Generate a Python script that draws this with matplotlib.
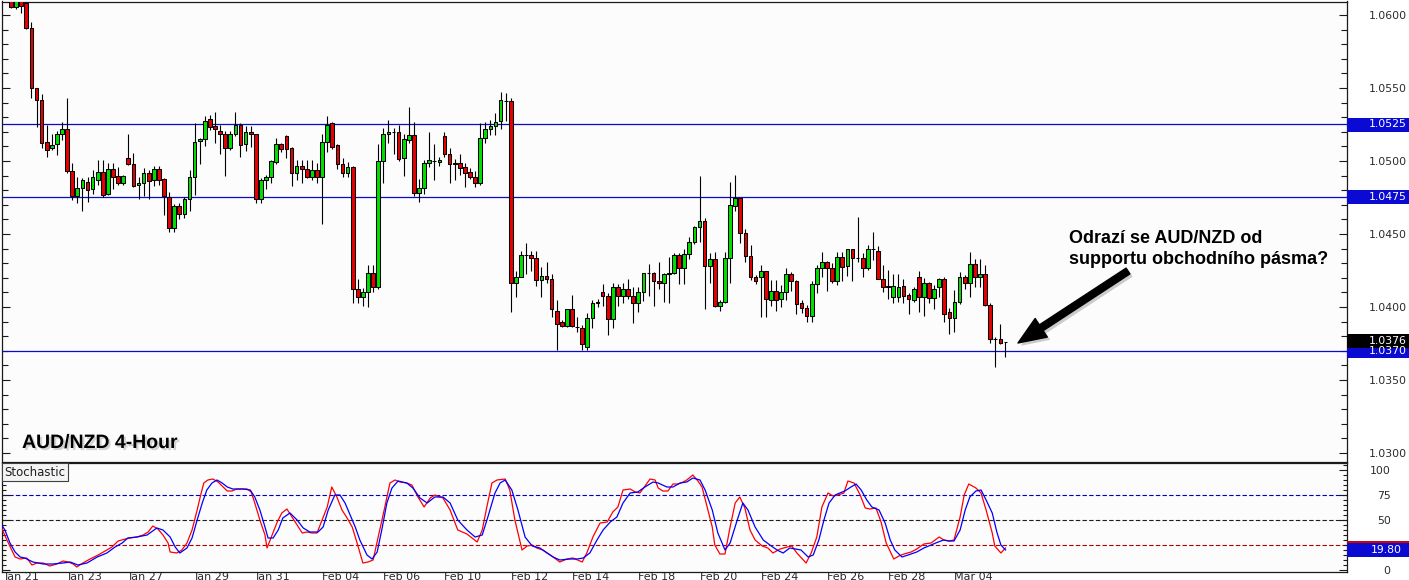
import matplotlib
matplotlib.use("Agg")
import matplotlib.pyplot as plt
import matplotlib.transforms as mtransforms
import matplotlib.patheffects as pe
from matplotlib.patches import Rectangle
from matplotlib.ticker import MultipleLocator, FixedLocator
import numpy as np

# ---------------- data (AUD/NZD 4-hour candles) ----------------
opens = [1.06100, 1.06055, 1.06100, 1.06082, 1.05911, 1.05500, 1.05418, 1.05130, 1.05089, 1.05116,
         1.05185, 1.05219, 1.04932, 1.04760, 1.04815, 1.04856, 1.04808, 1.04870, 1.04925, 1.04774,
         1.04945, 1.04897, 1.04849, 1.05021, 1.04979, 1.04836, 1.04849, 1.04918, 1.04870, 1.04945,
         1.04877, 1.04753, 1.04541, 1.04692, 1.04637, 1.04740, 1.04890, 1.05137, 1.05151, 1.05288,
         1.05240, 1.05205, 1.05185, 1.05089, 1.05185, 1.05247, 1.05116, 1.05199, 1.05185, 1.04740,
         1.04870, 1.04890, 1.04993, 1.05116, 1.05171, 1.05089, 1.04918, 1.04966, 1.04945, 1.04890,
         1.04938, 1.04890, 1.05130, 1.05260, 1.05110, 1.04979, 1.04918, 1.04959, 1.04123, 1.04068,
         1.04103, 1.04233, 1.04137, 1.05000, 1.05185, 1.05199, 1.05199, 1.05021, 1.05144, 1.05178,
         1.04781, 1.04815, 1.04986, 1.05000, 1.04993, 1.05171, 1.05048, 1.04986, 1.04986, 1.04959,
         1.04925, 1.04890, 1.04849, 1.05158, 1.05219, 1.05240, 1.05274, 1.05411, 1.05411, 1.04164,
         1.04205, 1.04356, 1.04356, 1.04336, 1.04185, 1.04212, 1.04192, 1.03973, 1.03897, 1.03870,
         1.03986, 1.03863, 1.03856, 1.03726, 1.03925, 1.04027, 1.04103, 1.04075, 1.03918, 1.04137,
         1.04075, 1.04123, 1.04075, 1.04027, 1.04103, 1.04233, 1.04233, 1.04178, 1.04164, 1.04226,
         1.04233, 1.04356, 1.04267, 1.04363, 1.04445, 1.04548, 1.04589, 1.04281, 1.04329, 1.04007,
         1.04034, 1.04336, 1.04692, 1.04747, 1.04507, 1.04349, 1.04205, 1.04205, 1.04247, 1.04048,
         1.04110, 1.04055, 1.04103, 1.04226, 1.04178, 1.04027, 1.03993, 1.03938, 1.04158, 1.04267,
         1.04308, 1.04267, 1.04178, 1.04342, 1.04281, 1.04397, 1.04336, 1.04336, 1.04267, 1.04397,
         1.04384, 1.04192, 1.04144, 1.04068, 1.04068, 1.04144, 1.04082, 1.04048, 1.04205, 1.04068,
         1.04164, 1.04062, 1.04137, 1.04192, 1.03966, 1.03925, 1.04034, 1.04205, 1.04164, 1.04295,
         1.04205, 1.04226, 1.04014, 1.03781, 1.03781, 1.03760]
highs = [1.06130, 1.06120, 1.06120, 1.06089, 1.05952, 1.05500, 1.05459, 1.05247, 1.05185, 1.05205,
         1.05267, 1.05432, 1.04986, 1.04890, 1.04884, 1.04890, 1.04938, 1.05007, 1.05007, 1.04986,
         1.04986, 1.04959, 1.04904, 1.05185, 1.05055, 1.04890, 1.04952, 1.04938, 1.04966, 1.04966,
         1.04884, 1.04788, 1.04705, 1.04712, 1.04753, 1.04938, 1.05260, 1.05158, 1.05308, 1.05315,
         1.05336, 1.05247, 1.05205, 1.05205, 1.05336, 1.05260, 1.05240, 1.05240, 1.05185, 1.04884,
         1.04904, 1.05007, 1.05158, 1.05123, 1.05178, 1.05096, 1.05007, 1.05007, 1.05007, 1.05007,
         1.04986, 1.05185, 1.05308, 1.05267, 1.05116, 1.05021, 1.04993, 1.04966, 1.04192, 1.04130,
         1.04288, 1.04288, 1.05116, 1.05226, 1.05281, 1.05226, 1.05247, 1.05185, 1.05370, 1.05267,
         1.04877, 1.05007, 1.05199, 1.05116, 1.05027, 1.05199, 1.05089, 1.05014, 1.05048, 1.04986,
         1.04952, 1.04932, 1.05260, 1.05267, 1.05281, 1.05329, 1.05473, 1.05466, 1.05432, 1.04247,
         1.04384, 1.04438, 1.04384, 1.04384, 1.04274, 1.04308, 1.04226, 1.04048, 1.03911, 1.03986,
         1.04082, 1.03932, 1.03877, 1.03959, 1.04048, 1.04055, 1.04158, 1.04096, 1.04164, 1.04158,
         1.04164, 1.04192, 1.04137, 1.04137, 1.04233, 1.04295, 1.04240, 1.04308, 1.04233, 1.04342,
         1.04370, 1.04370, 1.04397, 1.04479, 1.04555, 1.04897, 1.04610, 1.04370, 1.04377, 1.04048,
         1.04377, 1.04856, 1.04904, 1.04747, 1.04534, 1.04425, 1.04219, 1.04288, 1.04247, 1.04185,
         1.04185, 1.04151, 1.04267, 1.04240, 1.04185, 1.04048, 1.04014, 1.04178, 1.04288, 1.04377,
         1.04315, 1.04301, 1.04377, 1.04377, 1.04397, 1.04397, 1.04616, 1.04370, 1.04425, 1.04514,
         1.04418, 1.04288, 1.04253, 1.04226, 1.04226, 1.04192, 1.04096, 1.04137, 1.04247, 1.04199,
         1.04171, 1.04151, 1.04199, 1.04205, 1.03993, 1.04116, 1.04240, 1.04219, 1.04377, 1.04329,
         1.04329, 1.04288, 1.04027, 1.03795, 1.03884, 1.03760]
lows = [1.06048, 1.06041, 1.06014, 1.05904, 1.05432, 1.05233, 1.05089, 1.05027, 1.05075, 1.05041,
        1.05144, 1.04918, 1.04733, 1.04712, 1.04658, 1.04719, 1.04774, 1.04836, 1.04753, 1.04767,
        1.04808, 1.04836, 1.04836, 1.04973, 1.04822, 1.04740, 1.04760, 1.04740, 1.04829, 1.04836,
        1.04630, 1.04514, 1.04514, 1.04603, 1.04610, 1.04658, 1.04767, 1.04979, 1.05103, 1.05212,
        1.05123, 1.05048, 1.04897, 1.05075, 1.05171, 1.05027, 1.05068, 1.05096, 1.04712, 1.04712,
        1.04808, 1.04849, 1.04979, 1.05062, 1.05021, 1.04829, 1.04870, 1.04849, 1.04884, 1.04870,
        1.04849, 1.04568, 1.05062, 1.05082, 1.04945, 1.04890, 1.04890, 1.04027, 1.04027, 1.04007,
        1.04000, 1.04103, 1.04123, 1.04849, 1.05123, 1.05048, 1.05000, 1.04897, 1.05123, 1.04760,
        1.04719, 1.04774, 1.04959, 1.04870, 1.04966, 1.05027, 1.04849, 1.04870, 1.04904, 1.04822,
        1.04877, 1.04822, 1.04836, 1.05123, 1.05178, 1.05178, 1.05219, 1.05274, 1.03966, 1.04068,
        1.04205, 1.04226, 1.04247, 1.04144, 1.04068, 1.04164, 1.03932, 1.03705, 1.03863, 1.03863,
        1.03863, 1.03829, 1.03705, 1.03705, 1.03856, 1.04000, 1.04007, 1.03808, 1.03856, 1.04007,
        1.04027, 1.04055, 1.03890, 1.03966, 1.04041, 1.04075, 1.04007, 1.04123, 1.04034, 1.04027,
        1.04226, 1.04158, 1.04158, 1.04329, 1.04432, 1.04445, 1.03986, 1.04164, 1.04000, 1.03973,
        1.04027, 1.04164, 1.04658, 1.04438, 1.04308, 1.04185, 1.04158, 1.03932, 1.03932, 1.04007,
        1.03973, 1.04000, 1.04048, 1.04110, 1.03952, 1.03959, 1.03897, 1.03897, 1.04096, 1.04205,
        1.04110, 1.04164, 1.04151, 1.04178, 1.04212, 1.04178, 1.04308, 1.04205, 1.04253, 1.04322,
        1.04192, 1.04103, 1.04055, 1.04027, 1.04034, 1.04027, 1.03952, 1.04034, 1.03966, 1.03938,
        1.04027, 1.03986, 1.04068, 1.03897, 1.03815, 1.03829, 1.04021, 1.04123, 1.04068, 1.04137,
        1.04137, 1.04007, 1.03753, 1.03589, 1.03747, 1.03658]
closes = [1.06055, 1.06100, 1.06062, 1.05911, 1.05500, 1.05418, 1.05123, 1.05075, 1.05110, 1.05185,
          1.05219, 1.04932, 1.04760, 1.04815, 1.04870, 1.04801, 1.04890, 1.04925, 1.04767, 1.04945,
          1.04890, 1.04849, 1.04897, 1.04979, 1.04829, 1.04849, 1.04918, 1.04863, 1.04945, 1.04870,
          1.04760, 1.04541, 1.04692, 1.04637, 1.04740, 1.04890, 1.05130, 1.05151, 1.05274, 1.05233,
          1.05219, 1.05185, 1.05089, 1.05185, 1.05247, 1.05110, 1.05199, 1.05185, 1.04740, 1.04870,
          1.04890, 1.05000, 1.05116, 1.05082, 1.05082, 1.04918, 1.04966, 1.04945, 1.04890, 1.04938,
          1.04890, 1.05130, 1.05247, 1.05096, 1.04979, 1.04918, 1.04959, 1.04123, 1.04068, 1.04103,
          1.04233, 1.04137, 1.05000, 1.05185, 1.05199, 1.05199, 1.05014, 1.05151, 1.05178, 1.04781,
          1.04815, 1.04986, 1.05007, 1.05000, 1.05007, 1.05048, 1.04979, 1.04979, 1.04952, 1.04918,
          1.04890, 1.04849, 1.05158, 1.05219, 1.05240, 1.05267, 1.05418, 1.05411, 1.04164, 1.04205,
          1.04356, 1.04356, 1.04336, 1.04185, 1.04212, 1.04192, 1.03986, 1.03884, 1.03870, 1.03986,
          1.03870, 1.03863, 1.03747, 1.03925, 1.04027, 1.04034, 1.04075, 1.03918, 1.04137, 1.04075,
          1.04123, 1.04075, 1.04027, 1.04103, 1.04233, 1.04233, 1.04178, 1.04164, 1.04226, 1.04233,
          1.04356, 1.04267, 1.04363, 1.04445, 1.04548, 1.04589, 1.04281, 1.04329, 1.04007, 1.04034,
          1.04336, 1.04699, 1.04747, 1.04507, 1.04349, 1.04205, 1.04178, 1.04247, 1.04055, 1.04110,
          1.04048, 1.04103, 1.04226, 1.04178, 1.04021, 1.03993, 1.03938, 1.04158, 1.04267, 1.04308,
          1.04267, 1.04178, 1.04342, 1.04274, 1.04397, 1.04336, 1.04336, 1.04267, 1.04397, 1.04397,
          1.04192, 1.04137, 1.04137, 1.04144, 1.04137, 1.04075, 1.04055, 1.04123, 1.04068, 1.04164,
          1.04062, 1.04123, 1.04192, 1.03952, 1.03925, 1.04034, 1.04205, 1.04164, 1.04295, 1.04205,
          1.04226, 1.04014, 1.03781, 1.03781, 1.03753, 1.03760]

# Stochastic oscillator (bar index, value)
stoch_main_idx = [-2.2, -0.8, 0.8, 1.8, 3.1, 4.1, 5.1, 6.3, 7.6, 9.0, 10.2, 11.2, 12.2, 12.9, 14.1, 15.5,
                  17.1, 18.8, 19.8, 21.0, 22.4, 23.3, 24.7, 25.9, 26.9, 27.8, 28.8, 29.8, 30.8, 31.2,
                  32.5, 33.5, 34.5, 35.5, 36.5, 37.1, 37.8, 38.6, 39.6, 40.6, 41.6, 42.4, 43.3, 44.3,
                  46.3, 47.1, 47.8, 48.8, 49.8, 50.2, 51.2, 52.2, 53.1, 54.1, 55.1, 56.1, 57.1, 58.0,
                  59.0, 60.0, 61.0, 62.0, 62.9, 63.9, 64.9, 65.9, 66.9, 67.8, 69.0, 70.0, 71.0, 72.0,
                  73.3, 74.3, 75.3, 76.3, 77.6, 78.6, 79.8, 81.0, 82.2, 83.1, 84.7, 86.1, 87.6, 89.4,
                  91.4, 92.4, 93.3, 94.3, 95.3, 96.9, 97.8, 98.8, 100.2, 101.2, 102.2, 103.1, 104.3,
                  106.3, 107.6, 109.0, 110.2, 112.0, 112.9, 114.1, 115.5, 116.9, 118.0, 119.0, 120.0,
                  121.4, 122.4, 123.3, 123.9, 125.3, 126.3, 126.9, 127.8, 128.8, 129.8, 130.8, 131.8,
                  132.5, 133.7, 134.7, 135.5, 136.5, 137.5, 138.0, 139.0, 140.0, 141.0, 142.0, 142.9,
                  143.9, 144.9, 145.9, 147.3, 148.4, 149.4, 150.8, 152.2, 153.1, 154.1, 155.9, 156.9,
                  158.0, 159.0, 160.2, 161.2, 162.2, 163.3, 164.1, 165.3, 166.5, 167.5, 168.4, 169.6,
                  170.6, 171.6, 173.1, 174.1, 175.1, 176.5, 177.6, 179.0, 180.4, 182.0, 182.9, 183.9,
                  184.9, 186.1, 186.9, 187.8, 189.2, 190.2, 191.2, 192.4, 192.9, 194.1, 195.0]
stoch_main_val = [46, 30, 13, 11, 12, 5, 7, 7, 4, 6, 9, 8, 6, 3, 7, 11,
                  15, 20, 23, 29, 31, 32, 33, 35, 38, 44, 41, 35, 27, 18,
                  17, 20, 27, 40, 60, 73, 87, 90, 91, 88, 83, 79, 79, 81,
                  81, 78, 67, 50, 35, 22, 35, 48, 57, 61, 53, 45, 37, 38,
                  37, 37, 50, 63, 83, 73, 60, 52, 43, 28, 7, 8, 10, 33,
                  63, 87, 90, 88, 87, 85, 73, 63, 72, 75, 72, 60, 40, 36,
                  28, 40, 63, 87, 90, 91, 80, 50, 20, 24, 25, 22, 20,
                  13, 8, 11, 12, 8, 17, 33, 47, 48, 58, 63, 80,
                  81, 78, 77, 81, 91, 90, 82, 79, 79, 86, 86, 88,
                  90, 95, 89, 83, 63, 43, 25, 16, 16, 43, 67, 73,
                  62, 40, 30, 24, 22, 17, 21, 23, 24, 17, 7, 17,
                  33, 63, 77, 74, 75, 77, 89, 87, 75, 62, 61, 62,
                  48, 27, 11, 14, 16, 18, 21, 26, 27, 33, 30, 29,
                  30, 53, 75, 86, 82, 77, 60, 37, 24, 17, 22]
stoch_signal_idx = [-2.2, -1.2, -0.2, 0.8, 1.8, 2.7, 4.3, 6.3, 8.2, 10.2, 11.6, 13.1, 14.9, 16.9, 18.8,
                    20.4, 21.8, 22.9, 24.7, 26.7, 28.6, 29.8, 31.2, 32.2, 33.1, 34.5, 35.5, 36.5, 37.5,
                    38.4, 39.4, 40.4, 41.4, 42.4, 43.5, 45.5, 46.9, 47.8, 48.8, 49.8, 50.4, 51.4, 52.4,
                    53.3, 54.7, 56.1, 57.3, 58.6, 60.2, 61.2, 62.2, 63.5, 64.5, 65.5, 66.5, 67.5, 68.4,
                    69.8, 70.8, 71.8, 72.7, 73.7, 74.7, 75.9, 77.6, 78.8, 80.2, 81.6, 83.1, 84.7, 86.1,
                    87.6, 89.4, 91.0, 92.4, 93.5, 94.9, 95.9, 96.9, 98.2, 99.4, 100.8, 102.2, 103.7,
                    105.1, 106.3, 107.6, 109.6, 111.0, 112.2, 113.5, 114.9, 116.1, 117.5, 118.8, 120.0,
                    121.4, 122.9, 124.3, 125.9, 126.9, 128.6, 129.8, 131.2, 132.5, 133.7, 135.1, 136.1,
                    137.5, 138.6, 140.0, 141.0, 142.4, 143.5, 144.5, 145.9, 147.5, 148.8, 150.2, 151.4,
                    152.7, 154.9, 156.3, 157.3, 158.4, 159.4, 160.4, 161.6, 162.5, 163.5, 164.7, 165.7,
                    166.7, 167.8, 168.8, 170.2, 171.4, 172.4, 173.3, 174.7, 175.9, 177.6, 179.0, 180.4,
                    181.8, 182.9, 183.9, 184.9, 186.1, 187.1, 188.0, 189.2, 190.2, 191.2, 192.4, 193.3,
                    194.1, 195.0]
stoch_signal_val = [48, 40, 27, 18, 13, 12, 8, 6, 6, 7, 8, 5, 7, 13, 17,
                    23, 27, 32, 33, 35, 42, 40, 33, 23, 17, 22, 32, 50, 67,
                    80, 87, 90, 87, 83, 81, 81, 80, 73, 60, 43, 32, 32, 40,
                    52, 57, 50, 42, 38, 38, 43, 60, 75, 75, 67, 55, 43, 30,
                    15, 11, 18, 40, 67, 82, 89, 87, 82, 72, 67, 73, 73, 67,
                    50, 40, 33, 35, 53, 77, 87, 90, 80, 60, 33, 24, 22,
                    17, 13, 10, 11, 11, 12, 17, 30, 40, 48, 53, 67,
                    77, 78, 83, 88, 87, 83, 83, 87, 88, 92, 90, 80,
                    60, 37, 20, 27, 50, 67, 60, 43, 30, 25, 20, 17,
                    22, 20, 13, 15, 30, 50, 67, 75, 77, 79, 83, 86,
                    80, 70, 63, 60, 47, 30, 20, 13, 15, 18, 22, 25,
                    28, 30, 29, 29, 40, 60, 73, 79, 80, 70, 57, 38,
                    25, 20]

date_labels = ["Jan 21", "Jan 23", "Jan 27", "Jan 29", "Jan 31", "Feb 04", "Feb 06", "Feb 10",
               "Feb 12", "Feb 14", "Feb 18", "Feb 20", "Feb 24", "Feb 26", "Feb 28", "Mar 04"]
date_label_idx = [-1.2, 11, 23, 36, 48, 61, 73, 85, 98, 110, 123, 135, 147, 160, 172, 185]

levels = [1.0525, 1.0475, 1.0370]
level_colors = ["#0a0ac8", "#0a0ac8", "#0a0ac8"]
price_ticks = [1.0600, 1.0550, 1.0500, 1.0450, 1.0400, 1.0350, 1.0300]
current_price = 1.0376
stoch_levels = [75, 50, 25]
stoch_level_colors = ["#0000c8", "#202020", "#b40000"]
stoch_ticks = [100, 75, 50, 0]
stoch_main_last = 22.4
stoch_signal_last = 19.80

title = "AUD/NZD 4-Hour"
note_line1 = "Odrazí se AUD/NZD od"
note_line2 = "supportu obchodního pásma?"

# ---------------- figure layout (pixel based) ----------------
W, H = 1409, 580
fig = plt.figure(figsize=(W / 100, H / 100), dpi=100)
fig.patch.set_facecolor("white")

def fx(px):
    return px / W

def fy(py):
    return 1 - py / H

PX_L, PX_R = 2, 1347
MAIN_T, MAIN_B = 1.5, 462
ST_T, ST_B = 463, 572
BAR0_PX, BAR_STEP = 11, 5.1
LABEL_FS = 7.8

ax = fig.add_axes([fx(PX_L), fy(MAIN_B), fx(PX_R - PX_L), (MAIN_B - MAIN_T) / H])
ax2 = fig.add_axes([fx(PX_L), fy(ST_B), fx(PX_R - PX_L), (ST_B - ST_T) / H])

def idx_of(px):
    return (px - BAR0_PX) / BAR_STEP

xlim = (idx_of(PX_L), idx_of(PX_R))

def price_of(py):
    return 1.06 - (py - 15) / 14600.0

ax.set_xlim(*xlim)
ax.set_ylim(price_of(MAIN_B), price_of(MAIN_T))
ax2.set_xlim(*xlim)
ax2.set_ylim(570 - ST_B, 570 - ST_T)

for a in (ax, ax2):
    a.set_facecolor("#fcfcfc")
    for s in a.spines.values():
        s.set_color("#1a1a1a")
        s.set_linewidth(0.9)

# ---------------- candles ----------------
o = np.array(opens); h = np.array(highs); l = np.array(lows); c = np.array(closes)
x = np.arange(len(o))
ax.vlines(x, l, h, color="black", linewidth=0.8, zorder=3)
bottom = np.minimum(o, c)
height = np.maximum(np.abs(c - o), 0.000015)
cols = np.where(c > o, "#00e000", np.where(c < o, "#e80000", "black"))
ax.bar(x, height, bottom=bottom, width=0.72, color=cols, edgecolor="black",
       linewidth=0.75, zorder=4)

for lv, lc in zip(levels, level_colors):
    ax.axhline(lv, color=lc, linewidth=0.9, zorder=2)

ax.set_xticks([])
ax.yaxis.set_major_locator(FixedLocator(price_ticks))
ax.yaxis.set_minor_locator(MultipleLocator(0.001))
ax.tick_params(axis="y", which="both", direction="in", left=True, right=True,
               labelleft=False, labelright=True, pad=15.8, labelsize=LABEL_FS,
               labelcolor="#2a2a2a", color="#1a1a1a", width=0.8)
ax.tick_params(axis="y", which="major", length=6)
ax.tick_params(axis="y", which="minor", length=4)
ax.set_yticklabels([f"{p:.4f}" for p in price_ticks])

tr_main = mtransforms.blended_transform_factory(fig.transFigure, ax.transData)
tag_h = 14 / 14600.0

def price_tag(p, fc, label, ypos=None):
    yy = p if ypos is None else ypos
    ax.add_patch(Rectangle((fx(PX_R), yy - tag_h / 2), fx(W - PX_R), tag_h,
                           transform=tr_main, facecolor=fc, edgecolor="none",
                           clip_on=False, zorder=10))
    ax.text(fx(1369), yy, label, transform=tr_main, color="white", fontsize=LABEL_FS,
            va="center", ha="left", clip_on=False, zorder=11)

price_tag(levels[0], "#0a0ad2", f"{levels[0]:.4f}")
price_tag(levels[1], "#0a0ad2", f"{levels[1]:.4f}")
price_tag(levels[2], "#0a0ad2", f"{levels[2]:.4f}")
price_tag(current_price, "black", f"{current_price:.4f}", ypos=current_price + 0.00005)

# title with soft shadow
fig.text(fx(22), fy(448), title, fontsize=14, fontweight="bold", family="Liberation Sans",
         color="black", va="baseline", ha="left",
         path_effects=[pe.withSimplePatchShadow(offset=(1.5, -1.5), shadow_rgbFace="#a0a0a0",
                                                alpha=0.45)])

# annotation
fig.text(fx(1069), fy(243), note_line1, fontsize=13, fontweight="bold",
         family="Liberation Sans", color="black", va="baseline", ha="left")
fig.text(fx(1069), fy(264), note_line2, fontsize=13, fontweight="bold",
         family="Liberation Sans", color="black", va="baseline", ha="left")
ax.annotate("", xy=(idx_of(1018), price_of(343)), xytext=(idx_of(1128), price_of(271)),
            arrowprops=dict(arrowstyle="simple,head_length=2.0,head_width=1.6,tail_width=0.5",
                            color="black", shrinkA=0, shrinkB=0,
                            path_effects=[pe.withSimplePatchShadow(offset=(2, -2),
                                                                   shadow_rgbFace="#909090",
                                                                   alpha=0.45)]),
            zorder=6)

# ---------------- stochastic ----------------
for lv, lc in zip(stoch_levels, stoch_level_colors):
    ax2.axhline(lv, color=lc, linewidth=0.8, linestyle=(0, (4, 2)), zorder=1)
ax2.plot(stoch_main_idx, stoch_main_val, color="#ff0000", linewidth=0.9, zorder=3)
ax2.plot(stoch_signal_idx, stoch_signal_val, color="#0000ff", linewidth=0.9, zorder=4)

ax2.yaxis.set_major_locator(FixedLocator(stoch_ticks))
ax2.yaxis.set_minor_locator(MultipleLocator(5))
ax2.tick_params(axis="y", which="both", direction="in", left=True, right=True,
                labelleft=False, labelright=True, pad=31.5, labelsize=LABEL_FS,
                labelcolor="#2a2a2a", color="#1a1a1a", width=0.8)
ax2.tick_params(axis="y", which="major", length=6)
ax2.tick_params(axis="y", which="minor", length=3)
ax2.set_yticklabels([str(v) for v in stoch_ticks], ha="right")

ax2.set_xticks(date_label_idx)
ax2.set_xticklabels(date_labels, ha="left", fontsize=8, color="#2a2a2a")
ax2.tick_params(axis="x", length=0, pad=0.2)

tr_st = mtransforms.blended_transform_factory(fig.transFigure, ax2.transData)
ax2.add_patch(Rectangle((fx(PX_R), stoch_main_last - 7), fx(W - PX_R), 14, transform=tr_st,
                        facecolor="#d00000", edgecolor="none", clip_on=False, zorder=10))
ax2.add_patch(Rectangle((fx(PX_R), stoch_signal_last - 7), fx(W - PX_R), 14, transform=tr_st,
                        facecolor="#0a0ad2", edgecolor="none", clip_on=False, zorder=11))
ax2.text(fx(1371), stoch_signal_last, f"{stoch_signal_last:.2f}", transform=tr_st,
         color="white", fontsize=LABEL_FS, va="center", ha="left", clip_on=False, zorder=12)

fig.text(fx(4.5), fy(472), "Stochastic", fontsize=8.5, color="#202020", va="center", ha="left",
         bbox=dict(boxstyle="square,pad=0.2", facecolor="#f4f4f4", edgecolor="#404040",
                   linewidth=0.8))

fig.savefig("out.png", dpi=100, facecolor="white")
